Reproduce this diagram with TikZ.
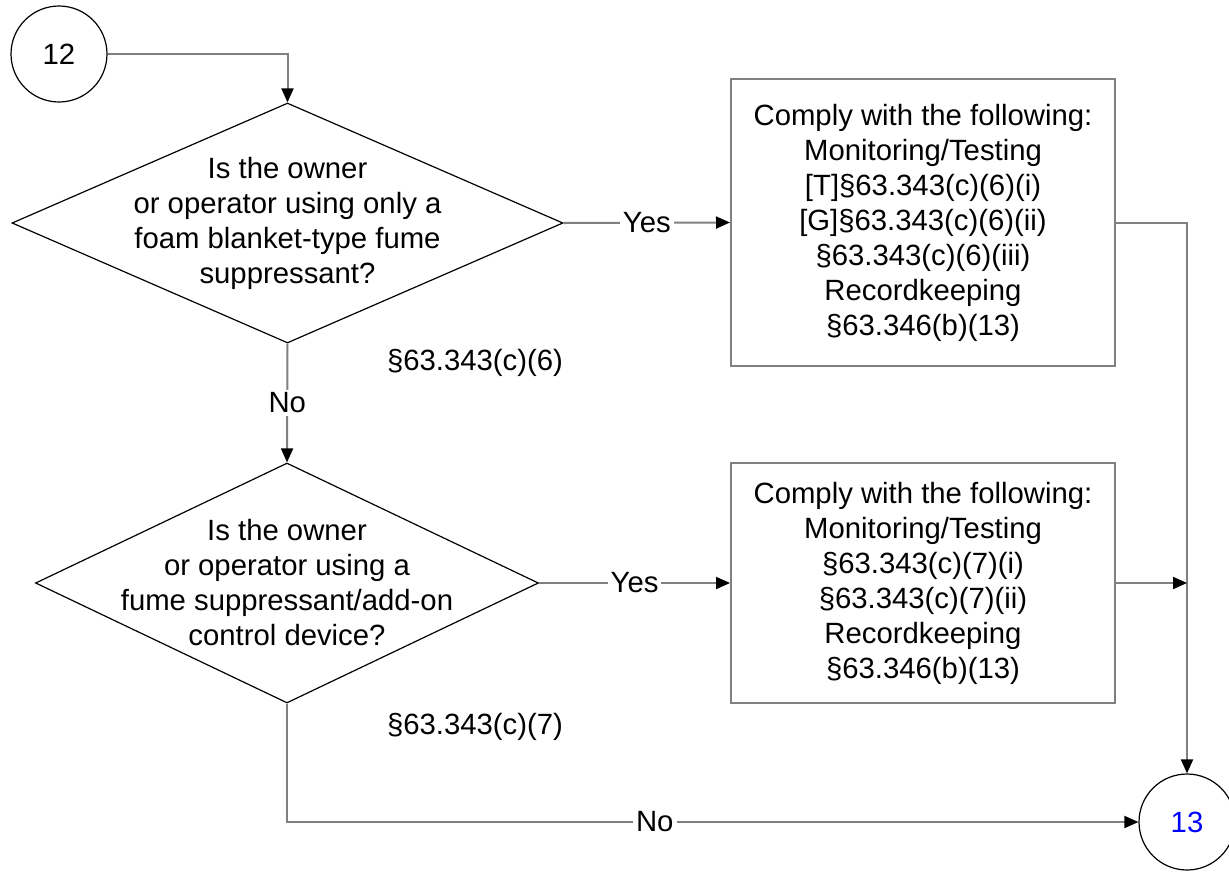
\documentclass[tikz,border=0pt]{standalone}
\usepackage{fontspec}
\setmainfont{Liberation Sans}
\usetikzlibrary{shapes.geometric,arrows.meta}
\definecolor{linegray}{RGB}{128,128,128}
\definecolor{numblue}{RGB}{0,0,255}
\tikzset{
  every node/.style={font=\fontsize{29.3}{35}\selectfont},
  dia/.style={shape=diamond, draw=black, line width=1.2pt, inner sep=0pt},
  txt/.style={align=center, inner sep=0pt},
  stepbox/.style={draw=linegray, line width=2pt, align=center, inner sep=0pt},
  conn/.style={shape=circle, draw=black, line width=1.2pt, minimum size=96pt, inner sep=0pt},
  flow/.style={draw=linegray, line width=2pt},
  arr/.style={flow, -{Triangle[length=14pt,width=12pt,color=black]}},
  lbl/.style={fill=white, inner sep=3pt}
}
\begin{document}
\begin{tikzpicture}[x=1pt,y=-1pt]
\useasboundingbox[fill=white] (0,0) rectangle (1229,871);

\node[conn] (c12) at (59,54) {12};

\node[dia, minimum width=551pt, minimum height=240pt] (d1) at (287.5,223) {};
\node[txt] (d1t) at (d1.center) {Is the owner\\or operator using only a\\foam blanket-type fume\\suppressant?};

\node[dia, minimum width=503pt, minimum height=240pt] (d2) at (287,583) {};
\node[txt] (d2t) at (d2.center) {Is the owner\\or operator using a\\fume suppressant/add-on\\control device?};

\node[stepbox, minimum width=384pt, minimum height=287pt] (b1) at (923,222.5)
  {Comply with the following:\\Monitoring/Testing\\{}[T]§63.343(c)(6)(i)\\{}[G]§63.343(c)(6)(ii)\\§63.343(c)(6)(iii)\\Recordkeeping\\§63.346(b)(13)};

\node[stepbox, minimum width=384pt, minimum height=240pt] (b2) at (923,583)
  {Comply with the following:\\Monitoring/Testing\\§63.343(c)(7)(i)\\§63.343(c)(7)(ii)\\Recordkeeping\\§63.346(b)(13)};

\node[conn, text=numblue] (c13) at (1187,822) {13};

\node[txt] (ref6) at (475,363) {§63.343(c)(6)};
\node[txt] (ref7) at (475,727) {§63.343(c)(7)};

\coordinate (j) at (c13.north |- b2.east);

\draw[arr] (c12.east) -| (d1.north);
\draw[arr] (d1.east) -- node[lbl] {Yes} (b1.west);
\draw[arr] (d1.south) -- node[lbl] {No} (d2.north);
\draw[arr] (d2.east) -- node[lbl] {Yes} (b2.west);
\draw[arr] (b1.east) -| (c13.north);
\draw[arr] (b2.east) -- (j);
\draw[arr] (d2.south) |- node[lbl, pos=0.716] {No} (c13.west);
\end{tikzpicture}
\end{document}
